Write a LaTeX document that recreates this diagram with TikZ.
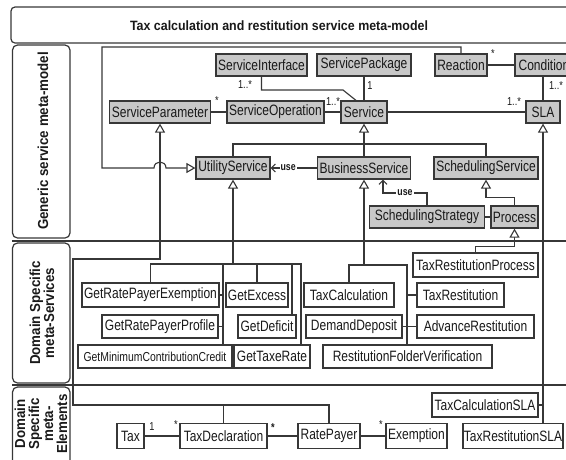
\documentclass[tikz,border=0pt]{standalone}
\usepackage{fontspec}
\setmainfont{Liberation Sans}
\newfontfamily\nodefam{Liberation Sans}[FakeStretch=0.8]
\newfontfamily\headfam{Liberation Sans}[FakeStretch=0.92]
\usetikzlibrary{arrows.meta}
\definecolor{lc}{RGB}{55,55,55}
\definecolor{gfill}{RGB}{200,200,200}
\definecolor{tc}{RGB}{25,25,25}
\newcommand\classfnt{\nodefam\fontsize{15}{17}\selectfont}
\newcommand\smallclassfnt{\nodefam\fontsize{13}{15}\selectfont}
\newcommand\multfnt{\nodefam\fontsize{11.5}{13}\selectfont}
\newcommand\usefnt{\nodefam\bfseries\fontsize{11}{13}\selectfont}
\newcommand\titlefnt{\headfam\bfseries\fontsize{13.5}{15}\selectfont}
\newcommand\lanefnt{\headfam\bfseries\fontsize{14.5}{14}\selectfont}
\begin{document}
\begin{tikzpicture}[x=1pt,y=-1pt,
  ln/.style={draw=lc, line width=1.1pt},
  frm/.style={draw=lc, line width=1.2pt},
  gbox/.style={draw=lc, fill=gfill, line width=1.2pt, inner sep=0pt,
    minimum height=22pt, font=\classfnt, text=tc},
  wbox/.style={draw=lc, fill=white, line width=1.1pt, inner sep=0pt,
    minimum height=24pt, font=\classfnt, text=tc},
  gen/.style={ln, -{Triangle[open, length=9pt, width=10pt, fill=white]}},
  usearr/.style={ln, -{Straight Barb[length=4pt, width=8pt]}},
  mult/.style={font=\multfnt, text=tc, inner sep=0pt},
  uselbl/.style={font=\usefnt, text=tc, fill=white, inner sep=1pt},
  lanelbl/.style={font=\lanefnt, text=tc, rotate=90, align=center, inner sep=0pt}]
\useasboundingbox (0,0) rectangle (566,459);
\clip (0,0) rectangle (566,459);

% frame, title band and swimlanes
\draw[frm, rounded corners=4pt] (640,7) -- (11,7) -- (11,43) -- (640,43);
\node[font=\titlefnt, text=tc] (title) at (279,26) {Tax calculation and restitution service meta-model};
\draw[frm, rounded corners=5pt] (12.5,45) rectangle (70,238);
\draw[frm, rounded corners=5pt] (12.5,243) rectangle (70,383);
\draw[frm, rounded corners=5pt] (12.5,387) rectangle (70,490);
\draw[frm] (12,241) -- (640,241);
\draw[frm] (12,385) -- (640,385);
\node[lanelbl] (lane1) at (43,141) {Generic service meta-model};
\node[lanelbl] (lane2) at (42,313) {Domain Specific\\meta-Services};
\node[lanelbl] (lane3) at (41,424) {Domain\\Specific\\meta-\\Elements};

% generic service meta-model
\node[gbox, minimum width=91pt]  (si)   at (261.5,65) {ServiceInterface};
\node[gbox, minimum width=94pt]  (spk)  at (364,65)   {ServicePackage};
\node[gbox, minimum width=52pt]  (rea)  at (461,65)   {Reaction};
\node[gbox, minimum width=58pt]  (con)  at (544,65)   {Condition};
\node[gbox, minimum width=101pt] (spar) at (160,112)  {ServiceParameter};
\node[gbox, minimum width=97pt]  (sop)  at (275.5,112) {ServiceOperation};
\node[gbox, minimum width=46pt]  (srv)  at (364,112)  {Service};
\node[gbox, minimum width=34pt]  (sla)  at (543,112)  {SLA};
\node[gbox, minimum width=74pt]  (us)   at (233,168)  {UtilityService};
\node[gbox, minimum width=93pt]  (bs)   at (364,168)  {BusinessService};
\node[gbox, minimum width=104pt] (ss)   at (486,168)  {SchedulingService};
\node[gbox, minimum width=115pt] (sst)  at (427,217)  {SchedulingStrategy};
\node[gbox, minimum width=47pt]  (pro)  at (514.5,217) {Process};

% domain specific meta-services
\node[wbox, minimum width=125pt] (trp)  at (475.5,265) {TaxRestitutionProcess};
\node[wbox, minimum width=137pt] (grpe) at (150.5,295) {GetRatePayerExemption};
\node[wbox, minimum width=62pt]  (gex)  at (257,295)   {GetExcess};
\node[wbox, minimum width=90pt]  (tc)   at (349,295)   {TaxCalculation};
\node[wbox, minimum width=87pt]  (tr)   at (460.5,295) {TaxRestitution};
\node[wbox, minimum width=116pt, minimum height=23pt] (grpp) at (160,326.5) {GetRatePayerProfile};
\node[wbox, minimum width=58pt,  minimum height=23pt] (gdf)  at (267,326.5) {GetDeficit};
\node[wbox, minimum width=96pt,  minimum height=23pt] (dd)   at (354,326.5) {DemandDeposit};
\node[wbox, minimum width=117pt, minimum height=23pt] (ar)   at (475.5,326.5) {AdvanceRestitution};
\node[wbox, minimum width=154pt, minimum height=23pt, font=\smallclassfnt] (gmcc) at (155,356.5) {GetMinimumContributionCredit};
\node[wbox, minimum width=76pt,  minimum height=23pt] (gtr)  at (272,356.5) {GetTaxeRate};
\node[wbox, minimum width=169pt, minimum height=23pt] (rfv)  at (407.5,356.5) {RestitutionFolderVerification};

% domain specific meta-elements
\node[wbox, minimum width=106pt] (tcsla) at (485,405)  {TaxCalculationSLA};
\node[wbox, minimum width=27pt,  minimum height=25pt] (tax)   at (130.5,436) {Tax};
\node[wbox, minimum width=87pt,  minimum height=25pt] (td)    at (223.5,436) {TaxDeclaration};
\node[wbox, minimum width=62pt,  minimum height=25pt] (rp)    at (329,436)   {RatePayer};
\node[wbox, minimum width=61pt,  minimum height=25pt] (ex)    at (416.5,436) {Exemption};
\node[wbox, minimum width=100pt, minimum height=25pt] (trsla) at (513,436)   {TaxRestitutionSLA};

% associations of the generic model
\draw[ln] (spar.east) -- (sop.west);
\node[mult] (m1) at (217,101) {*};
\draw[ln] (sop.east) -- (srv.west);
\node[mult] (m2) at (333,102) {1..*};
\draw[ln] (si.south) |- (343,90) -- (356,0 |- srv.north);
\node[mult] (m3) at (245,85) {1..*};
\draw[ln] (spk.south) -- (srv.north);
\node[mult] (m4) at (370,86) {1};
\draw[ln] (srv.east) -- (sla.west);
\node[mult] (m5) at (514,102) {1..*};
\draw[ln] (rea.east) -- (con.west);
\node[mult] (m6) at (493,54) {*};
\draw[ln] (sla.north) -- (sla.north |- con.south);
\node[mult] (m7) at (556,86) {1..*};

% specialisations of Service
\coordinate (jsrv) at (364,144);
\draw[gen] (bs.north) -- (srv.south);
\draw[ln] (us.north) |- (jsrv) -| (ss.north);
\draw[gen] (pro.north) -- ++(0,-8) -| (ss.south);
\draw[ln] (sst.east) -- (pro.west);

% usage dependencies
\draw[usearr] (bs.west) -- node[uselbl, pos=0.62] {use} (us.east);
\draw[usearr] (sst.north) |- node[uselbl, pos=0.75] {use} (383,193) -- (383,0 |- bs.south);

% Reaction specialises UtilityService, hopping over the ServiceParameter line
\draw[gen] (rea.north) |- (102,47) -- (102,168) -- (154,168)
  .. controls (154,160) and (166,160) .. (166,168) -- (us.west);

% UtilityService family
\coordinate (ju) at (233,264);
\draw[gen] (ju) -- (us.south);
\draw[ln] (grpe.north) |- (ju) -| (gtr.north -| 301,0);
\draw[ln] (223,0 |- ju) -- (gmcc.north -| 223,0);
\draw[ln] (gex.north |- ju) -- (gex.north);
\draw[ln] (292,0 |- ju) -- (gdf.north -| 292,0);
\draw[ln] (grpe.east) -- (223,0 |- grpe.east);
\draw[ln] (grpp.east) -- (223,0 |- grpp.east);

% BusinessService family
\coordinate (jb) at (364,265);
\draw[gen] (jb) -- (bs.south);
\draw[ln] (tc.north) |- (407,0 |- jb) -- (rfv.north -| 407,0);
\draw[ln] (tr.west) -- (407,0 |- tr.west);
\draw[ln] (dd.east) -- (ar.west);

% Process family
\draw[gen] (trp.north) -- ++(0,-6) -| (pro.south);

% SLA family
\draw[gen] (543,0 |- trsla.north) -- (sla.south);
\draw[ln] (tcsla.east) -- (543,0 |- tcsla.east);

% ServiceParameter family
\draw[gen] (rp.north) |- (73,405) |- (spar.south |- 0,259) -- (spar.south);
\draw[ln] (td.north) -- (td.north |- 0,405);

% associations of the domain elements
\draw[ln] (tax.east) -- (td.west);
\node[mult] (m8) at (152,427) {1};
\node[mult] (m9) at (176,425) {*};
\draw[ln] (td.east) -- (rp.west);
\node[mult, font=\multfnt\bfseries] (m10) at (273,428) {*};
\draw[ln] (rp.east) -- (ex.west);
\node[mult] (m11) at (381,425) {*};
\end{tikzpicture}
\end{document}
